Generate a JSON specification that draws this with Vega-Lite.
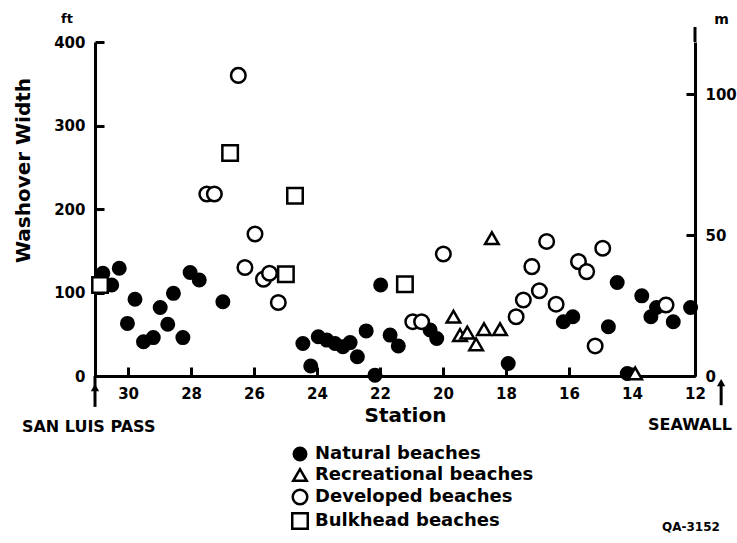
{
  "$schema": "https://vega.github.io/schema/vega-lite/v6.json",
  "width": 600,
  "height": 334,
  "autosize": {"type": "none"},
  "padding": {"left": 95, "top": 42, "right": 42, "bottom": 167},
  "background": "white",
  "config": {
    "view": {"stroke": null},
    "font": "DejaVu Sans",
    "axis": {
      "domainColor": "black", "domainWidth": 3, "tickColor": "black", "tickWidth": 3, "ticks": true,
      "labelColor": "black", "labelFont": "DejaVu Sans", "labelFontWeight": "bold", "labelFontSize": 15,
      "labelFlush": false, "labelOverlap": false, "grid": false,
      "titleColor": "black", "titleFont": "DejaVu Sans", "titleFontWeight": "bold"
    }
  },
  "datasets": {
    "beaches": [
      {"station": 30.80, "ft": 123, "type": "Natural beaches"},
      {"station": 30.52, "ft": 109, "type": "Natural beaches"},
      {"station": 30.28, "ft": 129, "type": "Natural beaches"},
      {"station": 29.78, "ft": 92, "type": "Natural beaches"},
      {"station": 30.02, "ft": 63, "type": "Natural beaches"},
      {"station": 29.51, "ft": 41, "type": "Natural beaches"},
      {"station": 29.20, "ft": 46, "type": "Natural beaches"},
      {"station": 28.98, "ft": 82, "type": "Natural beaches"},
      {"station": 28.74, "ft": 62, "type": "Natural beaches"},
      {"station": 28.56, "ft": 99, "type": "Natural beaches"},
      {"station": 28.26, "ft": 46, "type": "Natural beaches"},
      {"station": 28.03, "ft": 124, "type": "Natural beaches"},
      {"station": 27.74, "ft": 115, "type": "Natural beaches"},
      {"station": 26.99, "ft": 89, "type": "Natural beaches"},
      {"station": 24.45, "ft": 39, "type": "Natural beaches"},
      {"station": 24.20, "ft": 12, "type": "Natural beaches"},
      {"station": 23.96, "ft": 47, "type": "Natural beaches"},
      {"station": 23.69, "ft": 43, "type": "Natural beaches"},
      {"station": 23.43, "ft": 39, "type": "Natural beaches"},
      {"station": 23.18, "ft": 35, "type": "Natural beaches"},
      {"station": 22.95, "ft": 40, "type": "Natural beaches"},
      {"station": 22.72, "ft": 23, "type": "Natural beaches"},
      {"station": 22.44, "ft": 54, "type": "Natural beaches"},
      {"station": 22.16, "ft": 1, "type": "Natural beaches"},
      {"station": 21.98, "ft": 109, "type": "Natural beaches"},
      {"station": 21.68, "ft": 49, "type": "Natural beaches"},
      {"station": 21.42, "ft": 36, "type": "Natural beaches"},
      {"station": 20.41, "ft": 55, "type": "Natural beaches"},
      {"station": 20.20, "ft": 45, "type": "Natural beaches"},
      {"station": 17.93, "ft": 15, "type": "Natural beaches"},
      {"station": 16.18, "ft": 65, "type": "Natural beaches"},
      {"station": 15.88, "ft": 71, "type": "Natural beaches"},
      {"station": 14.75, "ft": 59, "type": "Natural beaches"},
      {"station": 14.47, "ft": 112, "type": "Natural beaches"},
      {"station": 13.69, "ft": 96, "type": "Natural beaches"},
      {"station": 13.22, "ft": 82, "type": "Natural beaches"},
      {"station": 13.40, "ft": 71, "type": "Natural beaches"},
      {"station": 12.69, "ft": 65, "type": "Natural beaches"},
      {"station": 12.14, "ft": 82, "type": "Natural beaches"},
      {"station": 14.15, "ft": 3, "type": "Natural beaches"},
      {"station": 19.67, "ft": 71, "type": "Recreational beaches"},
      {"station": 19.46, "ft": 49, "type": "Recreational beaches"},
      {"station": 19.23, "ft": 52, "type": "Recreational beaches"},
      {"station": 18.95, "ft": 38, "type": "Recreational beaches"},
      {"station": 18.70, "ft": 56, "type": "Recreational beaches"},
      {"station": 18.19, "ft": 56, "type": "Recreational beaches"},
      {"station": 18.45, "ft": 165, "type": "Recreational beaches"},
      {"station": 13.90, "ft": 3, "type": "Recreational beaches"},
      {"station": 26.29, "ft": 130, "type": "Developed beaches"},
      {"station": 25.97, "ft": 170, "type": "Developed beaches"},
      {"station": 25.70, "ft": 116, "type": "Developed beaches"},
      {"station": 25.51, "ft": 123, "type": "Developed beaches"},
      {"station": 25.23, "ft": 88, "type": "Developed beaches"},
      {"station": 26.50, "ft": 360, "type": "Developed beaches"},
      {"station": 27.50, "ft": 218, "type": "Developed beaches"},
      {"station": 27.26, "ft": 218, "type": "Developed beaches"},
      {"station": 20.96, "ft": 65, "type": "Developed beaches"},
      {"station": 20.68, "ft": 65, "type": "Developed beaches"},
      {"station": 19.99, "ft": 146, "type": "Developed beaches"},
      {"station": 17.68, "ft": 71, "type": "Developed beaches"},
      {"station": 17.45, "ft": 91, "type": "Developed beaches"},
      {"station": 17.18, "ft": 131, "type": "Developed beaches"},
      {"station": 16.94, "ft": 102, "type": "Developed beaches"},
      {"station": 16.71, "ft": 161, "type": "Developed beaches"},
      {"station": 16.41, "ft": 86, "type": "Developed beaches"},
      {"station": 15.70, "ft": 137, "type": "Developed beaches"},
      {"station": 15.44, "ft": 125, "type": "Developed beaches"},
      {"station": 15.17, "ft": 36, "type": "Developed beaches"},
      {"station": 14.93, "ft": 153, "type": "Developed beaches"},
      {"station": 12.92, "ft": 85, "type": "Developed beaches"},
      {"station": 30.89, "ft": 109, "type": "Bulkhead beaches"},
      {"station": 26.76, "ft": 267, "type": "Bulkhead beaches"},
      {"station": 24.70, "ft": 216, "type": "Bulkhead beaches"},
      {"station": 24.99, "ft": 122, "type": "Bulkhead beaches"},
      {"station": 21.21, "ft": 110, "type": "Bulkhead beaches"}
    ]
  },
  "resolve": {"scale": {"y": "independent"}, "axis": {"y": "independent"}},
  "layer": [
    {
      "layer": [
        {
          "data": {"name": "beaches"},
          "mark": {"type": "point", "stroke": "black", "strokeWidth": 2.5, "opacity": 1},
          "encoding": {
            "x": {
              "field": "station", "type": "quantitative",
              "scale": {"domain": [12, 31.05], "reverse": true, "nice": false, "zero": false},
              "axis": {
                "values": [30, 28, 26, 24, 22, 20, 18, 16, 14, 12], "format": "d",
                "ticks": true, "tickSize": -9, "labelPadding": 19,
                "title": "Station", "titleFontSize": 20, "titleX": 310, "titleY": 45,
                "titleAlign": "center", "titleBaseline": "alphabetic", "titleAnchor": null
              }
            },
            "y": {
              "field": "ft", "type": "quantitative",
              "scale": {"domain": [0, 400], "nice": false, "zero": true},
              "axis": {
                "values": [0, 100, 200, 300, 400], "format": "d",
                "ticks": true, "tickSize": -9, "labelPadding": 19,
                "title": "Washover Width", "titleFontSize": 20, "titleAngle": 270,
                "titleX": -72, "titleY": 128, "titleAlign": "center", "titleBaseline": "middle", "titleAnchor": null
              }
            },
            "shape": {
              "field": "type", "type": "nominal",
              "scale": {"domain": ["Natural beaches", "Recreational beaches", "Developed beaches", "Bulkhead beaches"], "range": ["circle", "triangle-up", "circle", "square"]},
              "legend": {
                "orient": "none", "legendX": 196, "legendY": 403, "title": null, "padding": 0,
                "labelFont": "DejaVu Sans", "labelFontSize": 18, "labelFontWeight": "bold", "labelColor": "black", "labelLimit": 400,
                "symbolStrokeColor": "black", "symbolStrokeWidth": 2.5, "rowPadding": -2, "labelOffset": 6
              }
            },
            "fill": {
              "field": "type", "type": "nominal",
              "scale": {"domain": ["Natural beaches", "Recreational beaches", "Developed beaches", "Bulkhead beaches"], "range": ["black", "white", "white", "white"]}
            },
            "size": {
              "field": "type", "type": "nominal",
              "scale": {"domain": ["Natural beaches", "Recreational beaches", "Developed beaches", "Bulkhead beaches"], "range": [156, 240, 130, 121]}
            }
          }
        },
        {
          "data": {"values": [{}]},
          "mark": {"type": "rule", "color": "black", "strokeWidth": 3},
          "encoding": {
            "x": {"datum": 12, "type": "quantitative"},
            "y": {"datum": 400, "type": "quantitative"},
            "y2": {"datum": 418}
          }
        },
        {
          "data": {"values": [{}]},
          "mark": {"type": "rule", "color": "black", "strokeWidth": 3},
          "encoding": {
            "x": {"datum": 31.05, "type": "quantitative"},
            "y": {"datum": 0, "type": "quantitative"},
            "y2": {"datum": -37}
          }
        },
        {
          "data": {"values": [{}]},
          "mark": {"type": "point", "shape": "triangle-up", "filled": true, "color": "black", "opacity": 1, "size": 70},
          "encoding": {
            "x": {"datum": 31.05, "type": "quantitative"},
            "y": {"datum": -14, "type": "quantitative"}
          }
        },
        {
          "data": {"values": [{}]},
          "mark": {"type": "rule", "color": "black", "strokeWidth": 3},
          "encoding": {
            "x": {"datum": 11.17, "type": "quantitative"},
            "y": {"datum": -11, "type": "quantitative"},
            "y2": {"datum": -35}
          }
        },
        {
          "data": {"values": [{}]},
          "mark": {"type": "point", "shape": "triangle-up", "filled": true, "color": "black", "opacity": 1, "size": 70},
          "encoding": {
            "x": {"datum": 11.17, "type": "quantitative"},
            "y": {"datum": -8, "type": "quantitative"}
          }
        },
        {
          "data": {"values": [{}]},
          "mark": {"type": "text", "text": "SAN LUIS PASS", "align": "left", "baseline": "alphabetic", "font": "DejaVu Sans", "fontWeight": "bold", "fontSize": 16, "color": "black"},
          "encoding": {
            "x": {"datum": 33.37, "type": "quantitative"},
            "y": {"datum": -67, "type": "quantitative"}
          }
        },
        {
          "data": {"values": [{}]},
          "mark": {"type": "text", "text": "SEAWALL", "align": "right", "baseline": "alphabetic", "font": "DejaVu Sans", "fontWeight": "bold", "fontSize": 16, "color": "black"},
          "encoding": {
            "x": {"datum": 10.83, "type": "quantitative"},
            "y": {"datum": -65, "type": "quantitative"}
          }
        },
        {
          "data": {"values": [{}]},
          "mark": {"type": "text", "text": "ft", "align": "center", "baseline": "alphabetic", "font": "DejaVu Sans", "fontWeight": "bold", "fontSize": 13, "color": "black"},
          "encoding": {
            "x": {"datum": 31.94, "type": "quantitative"},
            "y": {"datum": 423, "type": "quantitative"}
          }
        },
        {
          "data": {"values": [{}]},
          "mark": {"type": "text", "text": "QA-3152", "align": "right", "baseline": "alphabetic", "font": "DejaVu Sans", "fontWeight": "bold", "fontSize": 12, "color": "black"},
          "encoding": {
            "x": {"datum": 11.21, "type": "quantitative"},
            "y": {"datum": -186, "type": "quantitative"}
          }
        }
      ]
    },
    {
      "data": {"values": [{}]},
      "mark": {"type": "rule", "opacity": 0},
      "encoding": {
        "y": {
          "datum": 0, "type": "quantitative",
          "scale": {"domain": [0, 118.5], "nice": false},
          "axis": {
            "orient": "right", "values": [0, 50, 100], "format": "d",
            "ticks": true, "tickSize": -9, "labelPadding": 19,
            "title": "m", "titleAngle": 0, "titleFontSize": 14, "titleX": 26, "titleY": -19,
            "titleAlign": "center", "titleBaseline": "alphabetic", "titleAnchor": null
          }
        }
      }
    }
  ]
}
